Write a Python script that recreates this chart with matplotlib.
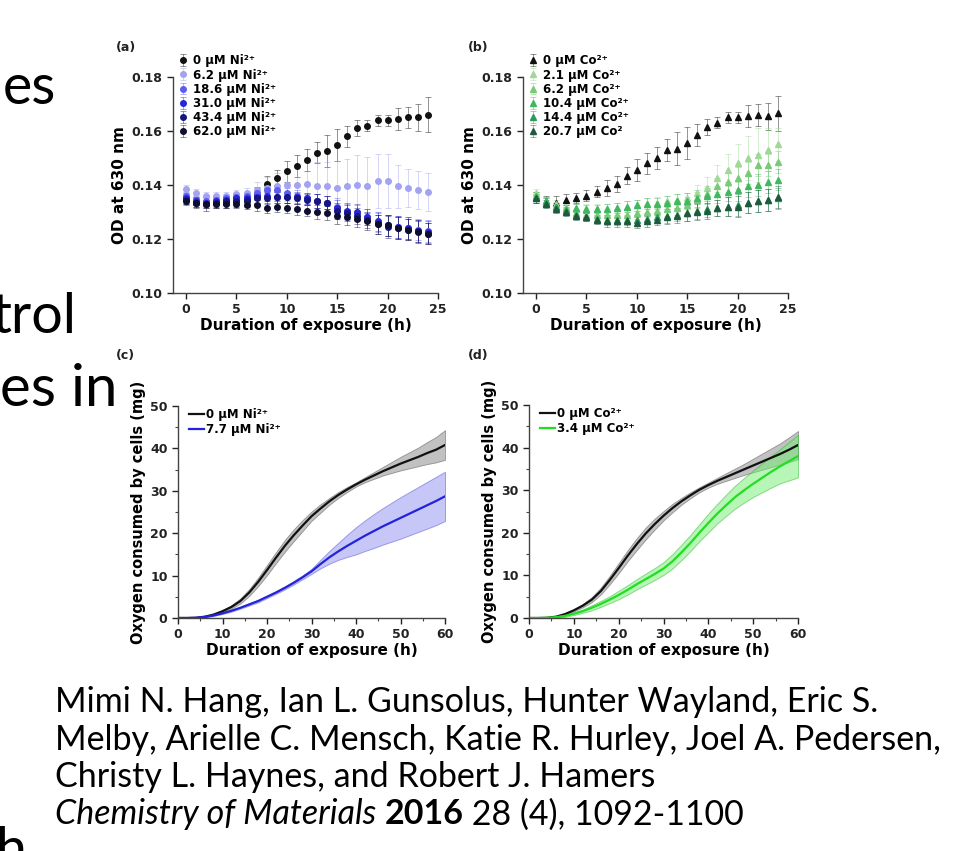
import matplotlib
matplotlib.use("Agg")
import matplotlib.pyplot as plt
from matplotlib.colors import to_rgba
from matplotlib.ticker import MultipleLocator
from matplotlib.transforms import Bbox, TransformedBbox

plt.rcParams['font.family'] = ['DejaVu Sans']
plt.rcParams['font.weight'] = 'bold'

W, H = 969, 851

# ---- panel (a): OD at 630 nm, Ni2+ ----
hours = list(range(25))
ni_labels = ["0 µM Ni²⁺", "6.2 µM Ni²⁺", "18.6 µM Ni²⁺",
             "31.0 µM Ni²⁺", "43.4 µM Ni²⁺", "62.0 µM Ni²⁺"]
ni_colors = ['#111111', '#a3a3f2', '#5c5cf2', '#2626d8', '#161680', '#0e0e2e']
ni_0 = [0.135, 0.1335, 0.133, 0.1335, 0.1335, 0.134, 0.134, 0.1363, 0.1404, 0.1427,
        0.145, 0.147, 0.1492, 0.152, 0.1527, 0.1548, 0.158, 0.161, 0.162, 0.164,
        0.164, 0.1645, 0.165, 0.165, 0.166]
ni_6 = [0.1385, 0.137, 0.136, 0.136, 0.136, 0.1365, 0.137, 0.138, 0.139, 0.1395,
        0.140, 0.140, 0.1405, 0.1395, 0.1395, 0.139, 0.1395, 0.140, 0.1395, 0.1413,
        0.1413, 0.1395, 0.139, 0.138, 0.1375]
ni_18 = [0.136, 0.1345, 0.134, 0.1345, 0.135, 0.1355, 0.136, 0.137, 0.138, 0.138,
         0.137, 0.136, 0.135, 0.134, 0.1335, 0.132, 0.130, 0.1295, 0.128, 0.126,
         0.125, 0.1245, 0.124, 0.1235, 0.123]
ni_31 = [0.135, 0.134, 0.1335, 0.134, 0.1345, 0.135, 0.135, 0.1355, 0.136, 0.1355,
         0.1355, 0.1355, 0.135, 0.134, 0.1335, 0.1315, 0.1305, 0.130, 0.128, 0.1265,
         0.125, 0.1245, 0.124, 0.123, 0.1225]
ni_43 = [0.1345, 0.1335, 0.133, 0.1335, 0.134, 0.134, 0.1345, 0.135, 0.135, 0.1355,
         0.1355, 0.135, 0.1345, 0.134, 0.1335, 0.1305, 0.1295, 0.1285, 0.127, 0.1255,
         0.1245, 0.124, 0.1235, 0.123, 0.122]
ni_62 = [0.134, 0.1335, 0.133, 0.133, 0.133, 0.133, 0.1325, 0.1325, 0.1315, 0.132,
         0.1315, 0.131, 0.1305, 0.130, 0.1297, 0.1287, 0.128, 0.1275, 0.1265, 0.1255,
         0.125, 0.124, 0.1235, 0.1225, 0.122]
ctrl_err = [0.002, 0.002, 0.0025, 0.002, 0.002, 0.002, 0.002, 0.003, 0.003, 0.003,
            0.004, 0.004, 0.004, 0.004, 0.006, 0.006, 0.004, 0.003, 0.002, 0.002,
            0.002, 0.004, 0.004, 0.005, 0.0065]
ni_6_err = [0.0015, 0.0015, 0.0015, 0.0015, 0.0015, 0.0015, 0.002, 0.003, 0.004, 0.005,
            0.006, 0.007, 0.008, 0.009, 0.009, 0.010, 0.010, 0.011, 0.011, 0.010,
            0.010, 0.008, 0.007, 0.007, 0.007]
small_err = [0.0015, 0.0015, 0.0015, 0.0015, 0.0015, 0.0015, 0.0015, 0.002, 0.002, 0.002,
             0.002, 0.002, 0.002, 0.0025, 0.0025, 0.003, 0.003, 0.003, 0.003, 0.0035,
             0.004, 0.004, 0.004, 0.004, 0.004]

# ---- panel (b): OD at 630 nm, Co2+ ----
co_labels = ["0 µM Co²⁺", "2.1 µM Co²⁺", "6.2 µM Co²⁺",
             "10.4 µM Co²⁺", "14.4 µM Co²⁺", "20.7 µM Co²"]
co_colors = ['#111111', '#a0d898', '#78ca76', '#3fb860', '#2a9a5a', '#1f5a3e']
co_0 = [0.1355, 0.134, 0.1335, 0.1345, 0.1352, 0.136, 0.1375, 0.139, 0.1405, 0.1435,
        0.1455, 0.148, 0.150, 0.153, 0.1535, 0.1555, 0.1585, 0.1615, 0.163, 0.165,
        0.165, 0.1655, 0.166, 0.1655, 0.1665]
co_2 = [0.137, 0.134, 0.133, 0.132, 0.131, 0.131, 0.131, 0.131, 0.1315, 0.132,
        0.1325, 0.133, 0.1335, 0.134, 0.1345, 0.135, 0.137, 0.139, 0.1425, 0.1455,
        0.148, 0.150, 0.151, 0.153, 0.155]
co_6 = [0.136, 0.1335, 0.132, 0.1305, 0.1295, 0.129, 0.129, 0.129, 0.129, 0.129,
        0.1295, 0.130, 0.1305, 0.131, 0.1315, 0.1325, 0.1345, 0.1365, 0.1395, 0.141,
        0.1425, 0.1445, 0.1475, 0.1475, 0.1485]
co_10 = [0.136, 0.134, 0.132, 0.131, 0.1315, 0.131, 0.131, 0.131, 0.1315, 0.132,
         0.1325, 0.133, 0.133, 0.1335, 0.134, 0.134, 0.135, 0.136, 0.1365, 0.1375,
         0.138, 0.1395, 0.140, 0.141, 0.142]
co_14 = [0.135, 0.1335, 0.132, 0.1305, 0.129, 0.128, 0.1275, 0.127, 0.127, 0.127,
         0.127, 0.1275, 0.128, 0.1285, 0.129, 0.1295, 0.1305, 0.131, 0.1315, 0.132,
         0.1325, 0.1335, 0.134, 0.1345, 0.135]
co_20 = [0.135, 0.133, 0.131, 0.130, 0.1285, 0.128, 0.127, 0.1265, 0.1265, 0.1265,
         0.126, 0.1265, 0.127, 0.128, 0.1285, 0.1295, 0.130, 0.1305, 0.1315, 0.132,
         0.132, 0.1335, 0.134, 0.1345, 0.1355]
co_2_err = [0.0015, 0.0015, 0.0015, 0.0015, 0.002, 0.002, 0.002, 0.002, 0.002, 0.002,
            0.002, 0.002, 0.002, 0.002, 0.002, 0.002, 0.003, 0.004, 0.005, 0.006,
            0.007, 0.008, 0.010, 0.008, 0.006]

# ---- panels (c), (d): oxygen consumed ----
t_o2 = list(range(0, 61, 2))
c_ctrl = [0, 0, 0.05, 0.3, 0.8, 1.6, 2.6, 4.0, 6.0, 8.5, 11.3, 14.2, 17.0, 19.5, 21.8,
          24.0, 25.8, 27.5, 29.0, 30.3, 31.5, 32.6, 33.6, 34.6, 35.5, 36.4, 37.2,
          38.0, 38.9, 39.7, 40.8]
c_ctrl_sd = [0, 0, 0.05, 0.1, 0.15, 0.25, 0.4, 0.6, 0.8, 1.0, 1.2, 1.3, 1.4, 1.4, 1.3,
             1.1, 1.0, 0.8, 0.7, 0.6, 0.5, 0.6, 0.8, 1.0, 1.3, 1.6, 1.9, 2.2, 2.6, 3.0, 3.5]
c_ni = [0, 0, 0.05, 0.25, 0.6, 1.1, 1.7, 2.4, 3.2, 4.0, 5.0, 6.0, 7.1, 8.3, 9.6, 11.0,
        12.7, 14.3, 15.7, 17.0, 18.2, 19.4, 20.5, 21.6, 22.6, 23.6, 24.6, 25.6, 26.6,
        27.6, 28.7]
c_ni_sd = [0, 0, 0.05, 0.1, 0.1, 0.15, 0.2, 0.2, 0.25, 0.3, 0.3, 0.3, 0.35, 0.4, 0.45,
           0.6, 1.0, 1.5, 2.0, 2.6, 3.2, 3.6, 4.0, 4.3, 4.6, 4.9, 5.1, 5.3, 5.5, 5.7, 5.8]
d_ctrl = [0, 0, 0.05, 0.3, 0.9, 1.8, 2.9, 4.3, 6.3, 8.9, 11.7, 14.6, 17.3, 19.8, 22.0,
          24.0, 25.8, 27.4, 28.8, 30.1, 31.2, 32.2, 33.1, 34.0, 34.9, 35.8, 36.7,
          37.6, 38.5, 39.5, 40.6]
d_ctrl_sd = [0, 0, 0.05, 0.1, 0.15, 0.25, 0.4, 0.6, 0.8, 1.0, 1.2, 1.3, 1.4, 1.4, 1.3,
             1.1, 1.0, 0.8, 0.7, 0.6, 0.6, 0.7, 0.9, 1.1, 1.3, 1.6, 1.9, 2.2, 2.5, 2.9, 3.3]
d_co = [0, 0, 0.05, 0.2, 0.5, 1.0, 1.6, 2.4, 3.3, 4.3, 5.4, 6.6, 7.9, 9.1, 10.3, 11.6,
        13.3, 15.4, 17.6, 20.0, 22.3, 24.5, 26.5, 28.4, 30.0, 31.5, 32.9, 34.3, 35.6,
        36.8, 38.0]
d_co_sd = [0, 0, 0.05, 0.1, 0.2, 0.3, 0.4, 0.6, 0.7, 0.8, 1.0, 1.1, 1.2, 1.3, 1.4, 1.5,
           1.7, 1.8, 1.9, 2.0, 2.2, 2.3, 2.5, 2.7, 2.9, 3.1, 3.4, 3.7, 4.0, 4.5, 5.0]

cite_lines = ["Mimi N. Hang, Ian L. Gunsolus, Hunter Wayland, Eric S.",
              "Melby, Arielle C. Mensch, Katie R. Hurley, Joel A. Pedersen,",
              "Christy L. Haynes, and Robert J. Hamers"]


def box(left, top, right, bottom):
    return [left / W, 1 - bottom / H, (right - left) / W, (bottom - top) / H]


def style_axes(ax):
    for side in ['top', 'right']:
        ax.spines[side].set_visible(False)
    for side in ['left', 'bottom']:
        ax.spines[side].set_color('#444444')
        ax.spines[side].set_linewidth(1.0)
    ax.tick_params(direction='out', length=4, width=1, labelsize=9, colors='#222222')
    ax.tick_params(which='minor', direction='out', length=2.5, width=0.8, colors='#444444')
    for lbl in ax.get_xticklabels() + ax.get_yticklabels():
        lbl.set_fontweight('bold')


def od_panel(rect, series, errs, colors, labels, marker, ms):
    ax = fig.add_axes(rect)
    for y, e, c, lab in zip(series, errs, colors, labels):
        ax.errorbar(hours, y, yerr=e, fmt=marker, ms=ms, color=c, mec=c,
                    ecolor=to_rgba(c, 0.45), elinewidth=0.7, capsize=2, capthick=0.7,
                    label=lab)
    ax.set_xlim(-1.3, 25)
    ax.set_ylim(0.10, 0.18)
    ax.set_xticks([0, 5, 10, 15, 20, 25])
    ax.set_yticks([0.10, 0.12, 0.14, 0.16, 0.18])
    ax.set_yticklabels(['0.10', '0.12', '0.14', '0.16', '0.18'])
    ax.set_xlabel("Duration of exposure (h)", fontsize=11, fontweight='bold', labelpad=1)
    ax.set_ylabel("OD at 630 nm", fontsize=11, fontweight='bold', labelpad=3)
    style_axes(ax)
    lg = ax.legend(loc='upper left', bbox_to_anchor=(0.025, 1.105), frameon=False,
                   fontsize=8.5, handlelength=0.5, handletextpad=0.6, labelspacing=0.1,
                   borderpad=0, borderaxespad=0)
    for t in lg.get_texts():
        t.set_fontweight('bold')
    return ax


def o2_panel(rect, ctrl, ctrl_sd, treat, treat_sd, treat_color, band_color, band_edge, labels):
    ax = fig.add_axes(rect)
    lo = [m - s for m, s in zip(ctrl, ctrl_sd)]
    hi = [m + s for m, s in zip(ctrl, ctrl_sd)]
    ax.fill_between(t_o2, lo, hi, facecolor='#8e8e8e', alpha=0.55, edgecolor='#555555',
                    linewidth=0.6)
    lo = [m - s for m, s in zip(treat, treat_sd)]
    hi = [m + s for m, s in zip(treat, treat_sd)]
    ax.fill_between(t_o2, lo, hi, facecolor=band_color, alpha=0.5, edgecolor=band_edge,
                    linewidth=0.7)
    ax.plot(t_o2, ctrl, color='#111111', lw=1.6, label=labels[0])
    ax.plot(t_o2, treat, color=treat_color, lw=1.6, label=labels[1])
    ax.set_xlim(0, 60)
    ax.set_ylim(0, 50)
    ax.set_xticks([0, 10, 20, 30, 40, 50, 60])
    ax.set_yticks([0, 10, 20, 30, 40, 50])
    ax.xaxis.set_minor_locator(MultipleLocator(5))
    ax.yaxis.set_minor_locator(MultipleLocator(5))
    ax.set_xlabel("Duration of exposure (h)", fontsize=11, fontweight='bold', labelpad=1)
    ax.set_ylabel("Oxygen consumed by cells (mg)", fontsize=10.5, fontweight='bold',
                  labelpad=3)
    style_axes(ax)
    lg = ax.legend(loc='upper left', bbox_to_anchor=(0.04, 0.99), frameon=False,
                   fontsize=8.5, handlelength=1.3, handletextpad=0.2, labelspacing=0.15,
                   borderpad=0, borderaxespad=0)
    for t in lg.get_texts():
        t.set_fontweight('bold')
    return ax


fig = plt.figure(figsize=(W / 100, H / 100), dpi=100)

od_panel(box(173, 77, 438, 293), [ni_0, ni_6, ni_18, ni_31, ni_43, ni_62],
         [ctrl_err, ni_6_err, small_err, small_err, small_err, small_err],
         ni_colors, ni_labels, 'o', 4.0)
od_panel(box(523, 77, 788, 293), [co_0, co_2, co_6, co_10, co_14, co_20],
         [ctrl_err, co_2_err, small_err, small_err, small_err, small_err],
         co_colors, co_labels, '^', 4.4)
o2_panel(box(178, 406, 445, 618), c_ctrl, c_ctrl_sd, c_ni, c_ni_sd, '#2323dc', '#9090f0',
         '#5050d8', ["0 µM Ni²⁺", "7.7 µM Ni²⁺"])
o2_panel(box(529, 405, 798, 618), d_ctrl, d_ctrl_sd, d_co, d_co_sd, '#22dd22', '#70ee70',
         '#30b830', ["0 µM Co²⁺", "3.4 µM Co²⁺"])

# panel letters
for lab, x, y in [("(a)", 116, 51), ("(b)", 468, 51), ("(c)", 116, 359), ("(d)", 468, 359)]:
    fig.text(x / W, 1 - y / H, lab, fontsize=9, fontweight='bold', color='#222222')

# slide text around the figure
slide_font = ['Lato', 'DejaVu Sans']
fig.text(3 / W, 1 - 104 / H, "es", fontsize=40, family=slide_font, fontweight='normal')
fig.text(-8 / W, 1 - 333 / H, "trol", fontsize=40, family=slide_font, fontweight='normal')
t_in = fig.text(0 / W, 1 - 406 / H, "es in", fontsize=42, family=slide_font,
                fontweight='normal')
t_in.set_clip_box(TransformedBbox(Bbox([[0, 0], [127 / W, 1]]), fig.transFigure))
fig.text(-5 / W, 1 - 867 / H, "h", fontsize=40, family=slide_font, fontweight='normal')

cite_size = 24.5
for i, line in enumerate(cite_lines):
    fig.text(55 / W, 1 - (712 + 37.5 * i) / H, line, fontsize=cite_size, family=slide_font,
             fontweight='normal')
y4 = 1 - (712 + 37.5 * 3) / H
t1 = fig.text(55 / W, y4, "Chemistry of Materials ", fontsize=cite_size, family=slide_font,
              style='italic', fontweight='normal')
fig.canvas.draw()
bb = t1.get_window_extent()
t2 = fig.text(bb.x1 / W, y4, "2016", fontsize=cite_size, family=slide_font, fontweight='bold')
fig.canvas.draw()
bb = t2.get_window_extent()
fig.text(bb.x1 / W, y4, " 28 (4), 1092-1100", fontsize=cite_size, family=slide_font,
         fontweight='normal')

fig.savefig("out.png", dpi=100)
